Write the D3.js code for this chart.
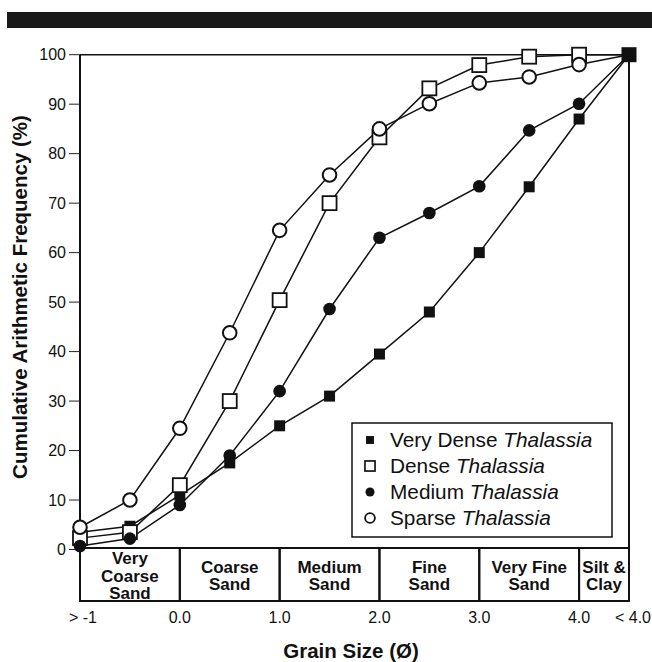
<!DOCTYPE html>
<html>
<head>
<meta charset="utf-8">
<script src="https://cdn.jsdelivr.net/npm/d3@7"></script>
<style>
  html, body { margin: 0; padding: 0; background: #fff; }
  svg { display: block; font-family: "Liberation Sans", Arial, Helvetica, sans-serif; }
</style>
</head>
<body>
<svg id="chart" width="652" height="662"></svg>
<script>
// ── Data ──────────────────────────────────────────────────────────────────────
const grain      = [-1, -0.5, 0, 0.5, 1.0, 1.5, 2.0, 2.5, 3.0, 3.5, 4.0, 4.5];
const veryDense  = [3.5, 4.7, 11, 17.5, 25, 31, 39.5, 48, 60, 73.3, 87, 100];
const dense      = [2.3, 3.5, 13, 30, 50.4, 70, 83.3, 93.2, 97.9, 99.6, 100, 100];
const medium     = [0.7, 2.2, 9, 19, 32, 48.6, 63, 68, 73.4, 84.7, 90.1, 100];
const sparse     = [4.5, 10, 24.5, 43.8, 64.5, 75.7, 85, 90.1, 94.3, 95.5, 98, 100];

const seriesNames = ["Very Dense", "Dense", "Medium", "Sparse"];
const seriesMarks = ["fsquare", "osquare", "fcircle", "ocircle"];
const seriesVals  = [veryDense, dense, medium, sparse];

const yTicks      = [0, 10, 20, 30, 40, 50, 60, 70, 80, 90, 100];
const xTickVals   = [-1, 0, 1, 2, 3, 4, 4.5];
const xTickLabels = ["> -1", "0.0", "1.0", "2.0", "3.0", "4.0", "< 4.0"];

const classBounds = [-1, 0, 1, 2, 3, 4, 4.5];
const classLabels = [["Very", "Coarse", "Sand"], ["Coarse", "Sand"], ["Medium", "Sand"],
                     ["Fine", "Sand"], ["Very Fine", "Sand"], ["Silt &", "Clay"]];

// ── Setup ─────────────────────────────────────────────────────────────────────
const svg = d3.select("#chart");
const x = d3.scaleLinear().domain([-1, 4.5]).range([80, 629]);
const y = d3.scaleLinear().domain([0, 100]).range([549.5, 54.7]);

// top black band
svg.append("rect").attr("x", 7).attr("y", 12).attr("width", 645).attr("height", 16).attr("fill", "#1a1a1a");

// frame: top, left, right
svg.append("line").attr("x1", x(-1)).attr("x2", x(4.5)).attr("y1", y(100)).attr("y2", y(100))
  .attr("stroke", "#111").attr("stroke-width", 1.5);
svg.append("line").attr("x1", x(4.5)).attr("x2", x(4.5)).attr("y1", y(100)).attr("y2", 548)
  .attr("stroke", "#111").attr("stroke-width", 2);
svg.append("line").attr("x1", x(-1)).attr("x2", x(-1)).attr("y1", y(100)).attr("y2", 602)
  .attr("stroke", "#111").attr("stroke-width", 2);

// y ticks
const yt = svg.append("g");
yt.selectAll("line").data(yTicks).join("line")
  .attr("x1", 69).attr("x2", 80).attr("y1", d => y(d)).attr("y2", d => y(d))
  .attr("stroke", "#222").attr("stroke-width", 1);
yt.selectAll("text").data(yTicks).join("text")
  .attr("x", 66).attr("y", d => y(d)).attr("dy", "0.36em")
  .attr("text-anchor", "end").style("font-size", "16px").attr("fill", "#111")
  .text(d => d);

// y title
svg.append("text")
  .attr("transform", "translate(27,297) rotate(-90)")
  .attr("text-anchor", "middle").style("font-size", "20.5px").style("font-weight", "bold")
  .attr("fill", "#111")
  .text("Cumulative Arithmetic Frequency (%)");

// grain-size class boxes
const boxTop = 548, boxBot = 601;
const cls = svg.append("g");
classLabels.forEach((lines, i) => {
  const x0 = x(classBounds[i]), x1 = x(classBounds[i + 1]);
  cls.append("rect").attr("x", x0).attr("y", boxTop).attr("width", x1 - x0).attr("height", boxBot - boxTop)
    .attr("fill", "none").attr("stroke", "#111").attr("stroke-width", 2);
  const lh = 17.5, cy = (boxTop + boxBot) / 2 + 1;
  lines.forEach((s, j) => {
    cls.append("text")
      .attr("x", (x0 + x1) / 2).attr("y", cy + (j - (lines.length - 1) / 2) * lh).attr("dy", "0.36em")
      .attr("text-anchor", "middle").style("font-size", "17px").style("font-weight", "bold")
      .attr("fill", "#111").text(s);
  });
});

// x tick labels
svg.append("g").selectAll("text").data(xTickVals).join("text")
  .attr("x", (d, i) => x(d) + (i === 0 ? 3 : i === xTickVals.length - 1 ? 4 : 0))
  .attr("y", 617).attr("dy", "0.36em")
  .attr("text-anchor", "middle").style("font-size", "16px").attr("fill", "#111")
  .text((d, i) => xTickLabels[i]);

// x title
svg.append("text").attr("x", 351).attr("y", 658)
  .attr("text-anchor", "middle").style("font-size", "20.5px").style("font-weight", "bold")
  .attr("fill", "#111").text("Grain Size (Ø)");

// ── Series ────────────────────────────────────────────────────────────────────
function drawMark(g, kind, cx, cy, scale = 1) {
  if (kind === "fsquare") {
    const s = 11 * scale;
    g.append("rect").attr("x", cx - s / 2).attr("y", cy - s / 2).attr("width", s).attr("height", s).attr("fill", "#111");
  } else if (kind === "osquare") {
    const s = 14 * scale;
    g.append("rect").attr("x", cx - s / 2).attr("y", cy - s / 2).attr("width", s).attr("height", s)
      .attr("fill", "#fff").attr("stroke", "#111").attr("stroke-width", 1.8 * Math.min(1, scale + 0.2));
  } else if (kind === "fcircle") {
    g.append("circle").attr("cx", cx).attr("cy", cy).attr("r", 6.3 * scale).attr("fill", "#111");
  } else {
    g.append("circle").attr("cx", cx).attr("cy", cy).attr("r", 6.8 * scale)
      .attr("fill", "#fff").attr("stroke", "#111").attr("stroke-width", 2 * Math.min(1, scale + 0.2));
  }
}

const line = d3.line().x((d, i) => x(grain[i])).y(d => y(d));
const linesG = svg.append("g");
seriesVals.forEach(vals => {
  linesG.append("path").attr("d", line(vals)).attr("fill", "none")
    .attr("stroke", "#111").attr("stroke-width", 1.5);
});

const marksG = svg.append("g");
seriesVals.forEach((vals, k) => {
  vals.forEach((v, i) => {
    if (i === vals.length - 1) return;          // shared end point drawn below
    drawMark(marksG, seriesMarks[k], x(grain[i]), y(v));
  });
});
// common end point (all series reach 100 %)
const last = grain.length - 1;
marksG.append("rect")
  .attr("x", x(grain[last]) - 7.5).attr("y", y(veryDense[last]) - 7.5)
  .attr("width", 15).attr("height", 15).attr("fill", "#111");

// ── Legend ────────────────────────────────────────────────────────────────────
const lg = svg.append("g");
lg.append("rect").attr("x", 352).attr("y", 423).attr("width", 260).attr("height", 114)
  .attr("fill", "#fff").attr("stroke", "#111").attr("stroke-width", 1.5);
const rowY = [440, 466, 492, 518];
seriesNames.forEach((name, k) => {
  drawMark(lg, seriesMarks[k], 370, rowY[k], 0.72);
  const t = lg.append("text").attr("x", 390).attr("y", rowY[k]).attr("dy", "0.36em")
    .style("font-size", "20.8px").attr("fill", "#111");
  t.append("tspan").text(name + " ");
  t.append("tspan").style("font-style", "italic").text("Thalassia");
});
</script>
</body>
</html>
